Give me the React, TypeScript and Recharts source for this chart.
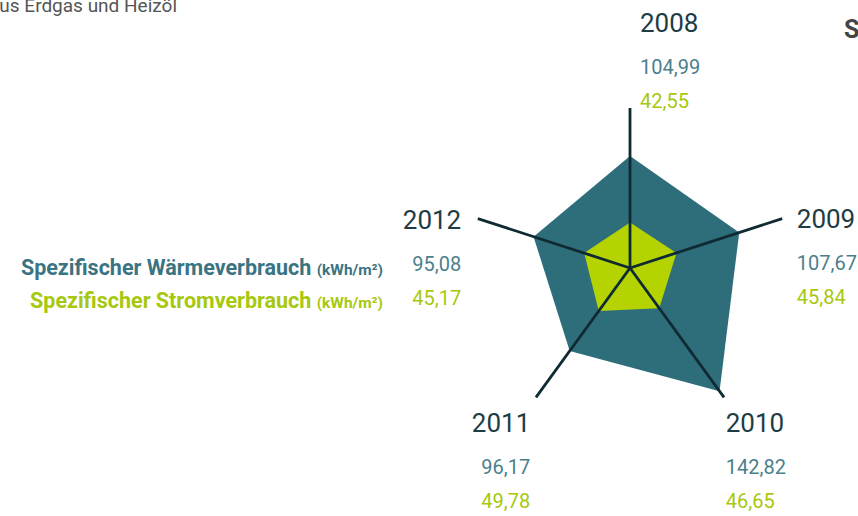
import React from 'react';
import { RadarChart, Radar, PolarAngleAxis, PolarRadiusAxis } from 'recharts';

const years = ['2008', '2009', '2010', '2011', '2012'];
const waerme = [104.99, 107.67, 142.82, 96.17, 95.08];
const strom = [42.55, 45.84, 46.65, 49.78, 45.17];
const axisMax = 150;

const data = years.map((y, i) => ({ year: y, waerme: waerme[i], strom: strom[i], axis: axisMax }));

const FONT = 'Roboto, "Noto Sans", sans-serif';
const C_YEAR = '#1e3c44';
const C_TEAL = '#4b7f8b';
const C_GREEN = '#a7c80e';
const C_FILL_TEAL = '#2e6e7b';
const C_FILL_GREEN = '#b4d300';
const C_AXIS = '#0f2a32';

const fmt = (v: number) => v.toFixed(2).replace('.', ',');

// label layout per axis: dx, year dy, anchor
const layout = [
  { dx: 10, dy: -77, anchor: 'start' },
  { dx: 7, dy: 3, anchor: 'start' },
  { dx: -3, dy: 19, anchor: 'start' },
  { dx: -1, dy: 19, anchor: 'end' },
  { dx: -9, dy: 4, anchor: 'end' },
];

const Tick = (props: any) => {
  const { x, y, payload } = props;
  const i = years.indexOf(String(payload.value));
  if (i < 0) return null;
  const l = layout[i];
  const tx = x + l.dx;
  const ty = y + l.dy;
  return (
    <g>
      <text x={tx} y={ty} dy="0.35em" textAnchor={l.anchor} fill={C_YEAR} fontSize={26} fontFamily={FONT} fontWeight={400}>
        {years[i]}
      </text>
      <text x={tx} y={ty + 44} dy="0.35em" textAnchor={l.anchor} fill={C_TEAL} fontSize={20} fontFamily={FONT} fontWeight={400}>
        {fmt(waerme[i])}
      </text>
      <text x={tx} y={ty + 78} dy="0.35em" textAnchor={l.anchor} fill={C_GREEN} fontSize={20} fontFamily={FONT} fontWeight={400}>
        {fmt(strom[i])}
      </text>
    </g>
  );
};

const AxisLines = (props: any) => {
  const pts = props.points || [];
  return (
    <g>
      {pts.map((p: any, i: number) => (
        <line key={i} x1={p.cx} y1={p.cy} x2={p.x} y2={p.y} stroke={C_AXIS} strokeWidth={2.8} />
      ))}
    </g>
  );
};

export default function App() {
  return (
    <div style={{ position: 'absolute', left: 0, top: 0, width: 858, height: 516, background: '#fff', overflow: 'hidden' }}>
      <svg width={858} height={516} style={{ position: 'absolute', left: 0, top: 0 }}>
        <text x={-11} y={12} fill="#555" fontSize={19} fontFamily={FONT}>aus Erdgas und Heizöl</text>
        <text x={844} y={38} fill="#444" fontSize={25} fontWeight={700} fontFamily={FONT}>Spezifischer</text>
        <text x={383} y={275} textAnchor="end" fill="#3a7482" fontFamily={FONT} fontWeight={700}>
          <tspan fontSize={21.5}>Spezifischer Wärmeverbrauch </tspan>
          <tspan fontSize={15.5}>(kWh/m²)</tspan>
        </text>
        <text x={383} y={308} textAnchor="end" fill={C_GREEN} fontFamily={FONT} fontWeight={700}>
          <tspan fontSize={21.5}>Spezifischer Stromverbrauch </tspan>
          <tspan fontSize={15.5}>(kWh/m²)</tspan>
        </text>
      </svg>
      <div style={{ position: 'absolute', left: 0, top: 0 }}>
        <RadarChart width={858} height={516} data={data} cx={630} cy={268} outerRadius={160} margin={{ top: 0, right: 0, bottom: 0, left: 0 }}>
          <PolarRadiusAxis domain={[0, axisMax]} tick={false} axisLine={false} />
          <PolarAngleAxis dataKey="year" tick={<Tick />} axisLine={false} tickLine={false} />
          <Radar dataKey="waerme" fill={C_FILL_TEAL} fillOpacity={1} stroke="none" isAnimationActive={false} />
          <Radar dataKey="strom" fill={C_FILL_GREEN} fillOpacity={1} stroke="none" isAnimationActive={false} />
          <Radar dataKey="axis" shape={<AxisLines />} isAnimationActive={false} />
        </RadarChart>
      </div>
    </div>
  );
}
